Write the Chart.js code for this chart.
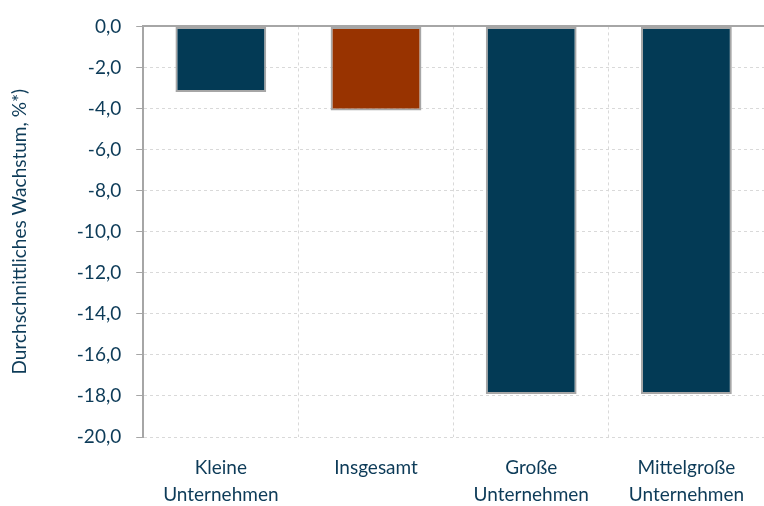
<!DOCTYPE html>
<html>
<head>
<meta charset="utf-8">
<script src="https://cdn.jsdelivr.net/npm/chart.js@4/dist/chart.umd.min.js"></script>
<style>
html,body{margin:0;padding:0;background:#fff;}
#wrap{width:764px;height:506px;position:relative;}
</style>
</head>
<body>
<div id="wrap"><canvas id="c"></canvas></div>
<script>
const categories = [['Kleine','Unternehmen'], 'Insgesamt', ['Große','Unternehmen'], ['Mittelgroße','Unternehmen']];
const values = [-3.2, -4.1, -17.9, -17.9];
const barColors = ['#033a55', '#983300', '#033a55', '#033a55'];
const yTitle = 'Durchschnittliches Wachstum, %*)';

const textColor = '#0d3b58';
const fontFam = 'Lato, "Open Sans", sans-serif';

new Chart(document.getElementById('c'), {
  type: 'bar',
  data: {
    labels: categories,
    datasets: [{
      data: values,
      backgroundColor: barColors,
      borderColor: '#a6a6a6',
      borderWidth: 2,
      borderSkipped: false,
      barPercentage: 0.585,
      categoryPercentage: 1
    }]
  },
  options: {
    responsive: true,
    maintainAspectRatio: false,
    animation: false,
    layout: { padding: { top: 17, right: 0, left: 8, bottom: 0 } },
    plugins: { legend: { display: false }, tooltip: { enabled: false } },
    scales: {
      x: {
        position: 'bottom',
        offset: true,
        afterFit: s => { s.height = 69; },
        grid: { offset: true, color: '#d9d9d9', lineWidth: 1, drawTicks: false },
        border: { display: false, dash: [3, 3] },
        ticks: { color: textColor, font: { family: fontFam, size: 19, lineHeight: 1.45 }, padding: 17, maxRotation: 0 }
      },
      x2: {
        position: 'top',
        offset: true,
        grid: { offset: true, drawOnChartArea: false, drawTicks: false },
        border: { display: true, color: '#a6a6a6', width: 2 },
        ticks: { display: false }
      },
      y: {
        min: -20,
        max: 0,
        ticks: {
          stepSize: 2,
          color: textColor,
          font: { family: fontFam, size: 19 },
          padding: 15,
          callback: v => v.toFixed(1).replace('.', ',')
        },
        grid: { color: '#d9d9d9', tickColor: '#a6a6a6', tickLength: 7, lineWidth: 1 },
        border: { display: true, color: '#a6a6a6', width: 2, dash: [3, 3] },
        title: { display: true, text: yTitle, color: textColor, font: { family: fontFam, size: 19 }, padding: { top: 0, bottom: 31 } }
      }
    }
  }
});
</script>
</body>
</html>
